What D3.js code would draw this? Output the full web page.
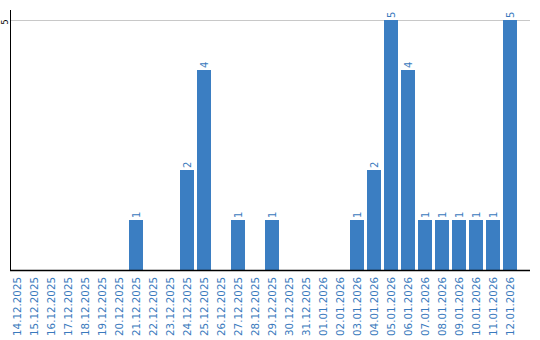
<!DOCTYPE html>
<html>
<head>
<meta charset="utf-8">
<script src="https://cdn.jsdelivr.net/npm/d3@7"></script>
<style>
	body { margin: 0; background: #fff; }
	text { font-family: "DejaVu Sans", Verdana, sans-serif; }
</style>
</head>
<body>
<div id="chart"></div>
<script>
const days = [
	"14.12.2025","15.12.2025","16.12.2025","17.12.2025","18.12.2025","19.12.2025",
	"20.12.2025","21.12.2025","22.12.2025","23.12.2025","24.12.2025","25.12.2025",
	"26.12.2025","27.12.2025","28.12.2025","29.12.2025","30.12.2025","31.12.2025",
	"01.01.2026","02.01.2026","03.01.2026","04.01.2026","05.01.2026","06.01.2026",
	"07.01.2026","08.01.2026","09.01.2026","10.01.2026","11.01.2026","12.01.2026"
];
const counts = [
	0,0,0,0,0,0,
	0,1,0,0,2,4,
	0,1,0,1,0,0,
	0,0,1,2,5,4,
	1,1,1,1,1,5
];
const yTicks = [5];

const w = 540, h = 340;
const barColor = "#3b7ec2";
const textColor = "#3a7abd";

const svg = d3.select("#chart").append("svg")
	.attr("width", w)
	.attr("height", h);

const x = d3.scaleBand()
	.domain(days)
	.range([10, 517])
	.paddingInner(3 / 17)
	.paddingOuter(0);

const y = d3.scaleLinear()
	.domain([0, 5])
	.range([270, 20]);

// grid
svg.selectAll(".grid")
	.data(yTicks)
	.join("line")
	.attr("class", "grid")
	.attr("x1", 10).attr("x2", 530)
	.attr("y1", d => y(d) + 0.5).attr("y2", d => y(d) + 0.5)
	.attr("stroke", "#c8c8c8");

// bars
svg.selectAll(".bar")
	.data(days.map((d, i) => ({ day: d, v: counts[i] })).filter(d => d.v > 0))
	.join("rect")
	.attr("class", "bar")
	.attr("x", d => x(d.day))
	.attr("width", x.bandwidth())
	.attr("y", d => y(d.v))
	.attr("height", d => y(0) - y(d.v))
	.attr("fill", barColor);

// value labels
svg.selectAll(".val")
	.data(days.map((d, i) => ({ day: d, v: counts[i] })).filter(d => d.v > 0))
	.join("text")
	.attr("class", "val")
	.attr("transform", d => `translate(${x(d.day) + x.bandwidth() / 2},${y(d.v) - 2}) rotate(-90)`)
	.attr("dy", "0.35em")
	.attr("font-size", 10)
	.attr("fill", textColor)
	.text(d => d.v);

// y axis
svg.append("line")
	.attr("x1", 10.5).attr("x2", 10.5)
	.attr("y1", 10).attr("y2", 270)
	.attr("stroke", "#000");

svg.selectAll(".ytick")
	.data(yTicks)
	.join("text")
	.attr("class", "ytick")
	.attr("transform", d => `translate(5,${y(d) + 2}) rotate(-90)`)
	.attr("text-anchor", "middle")
	.attr("dy", "0.35em")
	.attr("font-size", 8)
	.attr("fill", "#000")
	.text(d => d);

// baseline
svg.append("line")
	.attr("x1", 10).attr("x2", 530)
	.attr("y1", 270.5).attr("y2", 270.5)
	.attr("stroke", "#000")
	.attr("stroke-width", 1.5);

// x labels
svg.selectAll(".xlab")
	.data(days)
	.join("text")
	.attr("class", "xlab")
	.attr("transform", d => `translate(${x(d) + x.bandwidth() / 2},277) rotate(-90)`)
	.attr("text-anchor", "end")
	.attr("dy", "0.35em")
	.attr("font-size", 10.3)
	.attr("fill", textColor)
	.text(d => d);
</script>
</body>
</html>
